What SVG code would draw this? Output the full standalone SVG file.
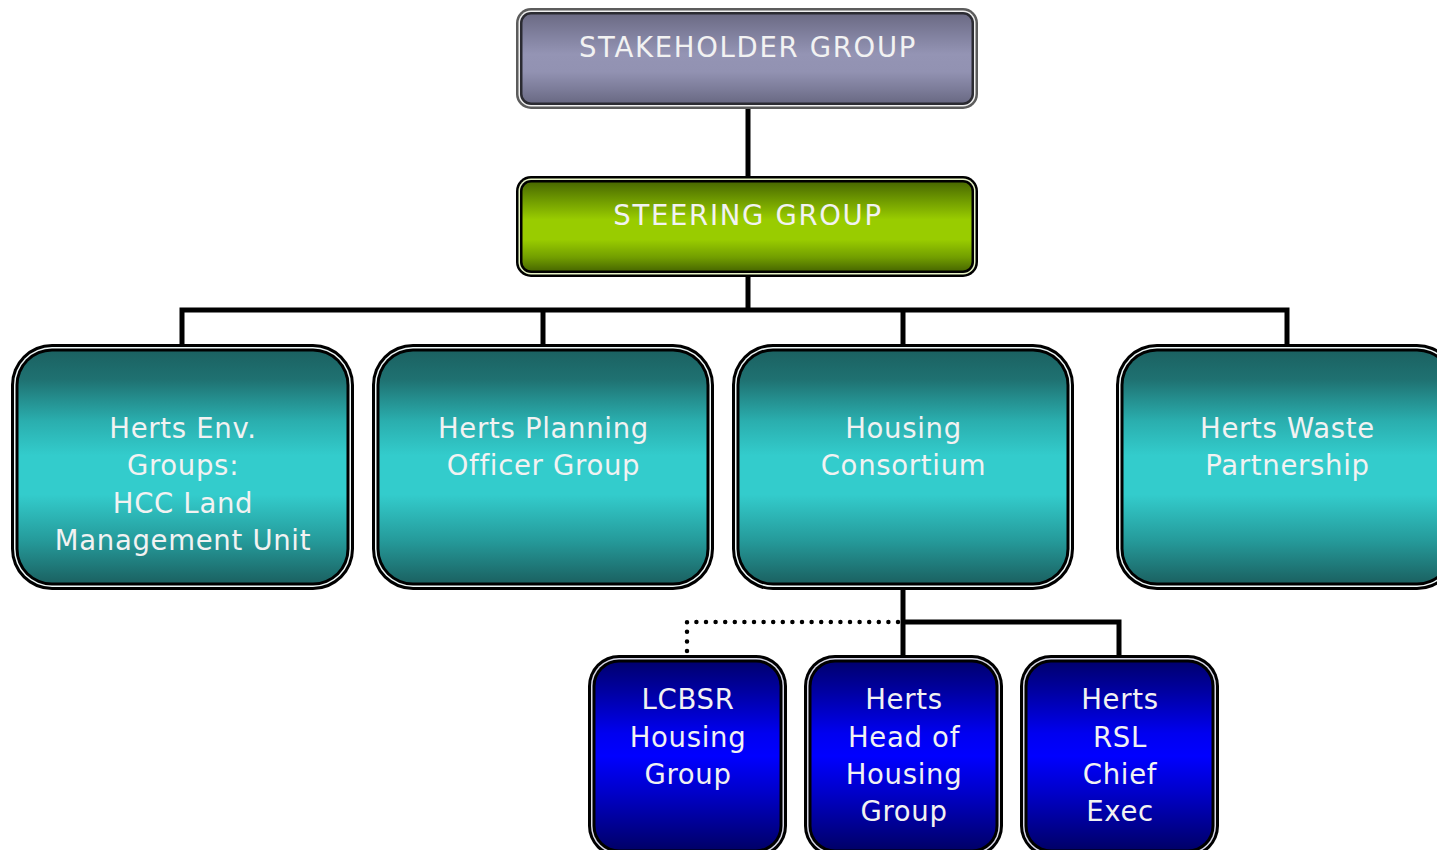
<svg xmlns="http://www.w3.org/2000/svg" width="1437" height="850" viewBox="0 0 1437 850">
  <defs>
    <linearGradient id="gPurple" x1="0" y1="0" x2="0" y2="1">
      <stop offset="0" stop-color="#6c6b85"/>
      <stop offset="0.25" stop-color="#8282a0"/>
      <stop offset="0.45" stop-color="#9494b4"/>
      <stop offset="0.65" stop-color="#9292b2"/>
      <stop offset="0.85" stop-color="#7c7c99"/>
      <stop offset="1" stop-color="#6a6a84"/>
    </linearGradient>
    <linearGradient id="gGreen" x1="0" y1="0" x2="0" y2="1">
      <stop offset="0" stop-color="#4a6a00"/>
      <stop offset="0.2" stop-color="#6f9a00"/>
      <stop offset="0.42" stop-color="#99cc00"/>
      <stop offset="0.65" stop-color="#99cc00"/>
      <stop offset="0.85" stop-color="#729e00"/>
      <stop offset="1" stop-color="#4a6a00"/>
    </linearGradient>
    <linearGradient id="gTeal" x1="0" y1="0" x2="0" y2="1">
      <stop offset="0" stop-color="#1b6262"/>
      <stop offset="0.12" stop-color="#1f7171"/>
      <stop offset="0.3" stop-color="#2aaeae"/>
      <stop offset="0.45" stop-color="#33cccc"/>
      <stop offset="0.62" stop-color="#33cccc"/>
      <stop offset="0.82" stop-color="#259a9a"/>
      <stop offset="1" stop-color="#1b6262"/>
    </linearGradient>
    <linearGradient id="gBlue" x1="0" y1="0" x2="0" y2="1">
      <stop offset="0" stop-color="#000070"/>
      <stop offset="0.15" stop-color="#0000a0"/>
      <stop offset="0.38" stop-color="#0000f0"/>
      <stop offset="0.5" stop-color="#0000ff"/>
      <stop offset="0.7" stop-color="#0000c8"/>
      <stop offset="1" stop-color="#000068"/>
    </linearGradient>
  </defs>
  <style>
    .lbl { font-family: "DejaVu Sans", Verdana, sans-serif; font-size: 27.5px; fill: #f2f2f2; text-anchor: middle; letter-spacing: 0.7px; }
    .caps { letter-spacing: 1.7px; }
    .wire { fill: none; stroke: #000; stroke-width: 5; }
    .dots { fill: none; stroke: #000; stroke-width: 4.5; stroke-linecap: round; stroke-dasharray: 0 9.6; }
  </style>

  <!-- connectors -->
  <g id="connectors">
    <path class="wire" d="M748 108 V177"/>
    <path class="wire" d="M748 276 V310"/>
    <path class="wire" d="M182 345 V310 H1287 V345"/>
    <path class="wire" d="M543 310 V345"/>
    <path class="wire" d="M903 310 V345"/>
    <path class="wire" d="M903 589 V657"/>
    <path class="wire" d="M903 622 H1119 V657"/>
    <path class="dots" d="M898 622 H687 V652"/>
  </g>

  <!-- top level -->
  <g id="stakeholder-group">
    <rect x="516" y="8" width="462" height="101" rx="15" fill="#5c5c5c"/>
    <rect x="518.5" y="10.5" width="457" height="96" rx="12.5" fill="#f0f0f0"/>
    <rect x="520" y="12" width="454" height="93" rx="11" fill="#2b2b32"/>
    <rect x="522.5" y="14.5" width="449" height="88" rx="8.5" fill="url(#gPurple)"/>
    <text class="lbl caps" x="748" y="57">STAKEHOLDER GROUP</text>
  </g>

  <g id="steering-group">
    <rect x="516" y="176" width="462" height="101" rx="15" fill="#000"/>
    <rect x="518.5" y="178.5" width="457" height="96" rx="12.5" fill="#e6f3c4"/>
    <rect x="520" y="180" width="454" height="93" rx="11" fill="#000"/>
    <rect x="522.5" y="182.5" width="449" height="88" rx="8.5" fill="url(#gGreen)"/>
    <text class="lbl caps" x="748" y="225">STEERING GROUP</text>
  </g>

  <!-- second tier -->
  <g id="herts-env-groups">
    <rect x="11" y="344" width="343" height="246" rx="41" fill="#000"/>
    <rect x="14" y="347" width="337" height="240" rx="38" fill="#eef8f8"/>
    <rect x="15.5" y="348.5" width="334" height="237" rx="36.5" fill="#000"/>
    <rect x="18.5" y="351.5" width="328" height="231" rx="33.5" fill="url(#gTeal)"/>
    <text class="lbl" x="183" y="438">Herts Env.</text>
    <text class="lbl" x="183" y="475">Groups:</text>
    <text class="lbl" x="183" y="513">HCC Land</text>
    <text class="lbl" x="183" y="550">Management Unit</text>
  </g>

  <g id="herts-planning-officer-group">
    <rect x="372" y="344" width="342" height="246" rx="41" fill="#000"/>
    <rect x="375" y="347" width="336" height="240" rx="38" fill="#eef8f8"/>
    <rect x="376.5" y="348.5" width="333" height="237" rx="36.5" fill="#000"/>
    <rect x="379.5" y="351.5" width="327" height="231" rx="33.5" fill="url(#gTeal)"/>
    <text class="lbl" x="543.5" y="438">Herts Planning</text>
    <text class="lbl" x="543.5" y="475">Officer Group</text>
  </g>

  <g id="housing-consortium">
    <rect x="732" y="344" width="342" height="246" rx="41" fill="#000"/>
    <rect x="735" y="347" width="336" height="240" rx="38" fill="#eef8f8"/>
    <rect x="736.5" y="348.5" width="333" height="237" rx="36.5" fill="#000"/>
    <rect x="739.5" y="351.5" width="327" height="231" rx="33.5" fill="url(#gTeal)"/>
    <text class="lbl" x="903.5" y="438">Housing</text>
    <text class="lbl" x="903.5" y="475">Consortium</text>
  </g>

  <g id="herts-waste-partnership">
    <rect x="1116" y="344" width="342" height="246" rx="41" fill="#000"/>
    <rect x="1119" y="347" width="336" height="240" rx="38" fill="#eef8f8"/>
    <rect x="1120.5" y="348.5" width="333" height="237" rx="36.5" fill="#000"/>
    <rect x="1123.5" y="351.5" width="327" height="231" rx="33.5" fill="url(#gTeal)"/>
    <text class="lbl" x="1287.5" y="438">Herts Waste</text>
    <text class="lbl" x="1287.5" y="475">Partnership</text>
  </g>

  <!-- housing sub-groups -->
  <g id="lcbsr-housing-group">
    <rect x="588" y="655" width="199" height="202" rx="31" fill="#000"/>
    <rect x="591" y="658" width="193" height="196" rx="28" fill="#d8d8e8"/>
    <rect x="592.5" y="659.5" width="190" height="193" rx="26.5" fill="#000"/>
    <rect x="595.5" y="662.5" width="184" height="187" rx="23.5" fill="url(#gBlue)"/>
    <text class="lbl" x="688" y="708.5">LCBSR</text>
    <text class="lbl" x="688" y="747">Housing</text>
    <text class="lbl" x="688" y="783.5">Group</text>
  </g>

  <g id="herts-head-of-housing-group">
    <rect x="804" y="655" width="199" height="202" rx="31" fill="#000"/>
    <rect x="807" y="658" width="193" height="196" rx="28" fill="#d8d8e8"/>
    <rect x="808.5" y="659.5" width="190" height="193" rx="26.5" fill="#000"/>
    <rect x="811.5" y="662.5" width="184" height="187" rx="23.5" fill="url(#gBlue)"/>
    <text class="lbl" x="904" y="708.5">Herts</text>
    <text class="lbl" x="904" y="747">Head of</text>
    <text class="lbl" x="904" y="783.5">Housing</text>
    <text class="lbl" x="904" y="821">Group</text>
  </g>

  <g id="herts-rsl-chief-exec">
    <rect x="1020" y="655" width="199" height="202" rx="31" fill="#000"/>
    <rect x="1023" y="658" width="193" height="196" rx="28" fill="#d8d8e8"/>
    <rect x="1024.5" y="659.5" width="190" height="193" rx="26.5" fill="#000"/>
    <rect x="1027.5" y="662.5" width="184" height="187" rx="23.5" fill="url(#gBlue)"/>
    <text class="lbl" x="1120" y="708.5">Herts</text>
    <text class="lbl" x="1120" y="747">RSL</text>
    <text class="lbl" x="1120" y="783.5">Chief</text>
    <text class="lbl" x="1120" y="821">Exec</text>
  </g>
</svg>
